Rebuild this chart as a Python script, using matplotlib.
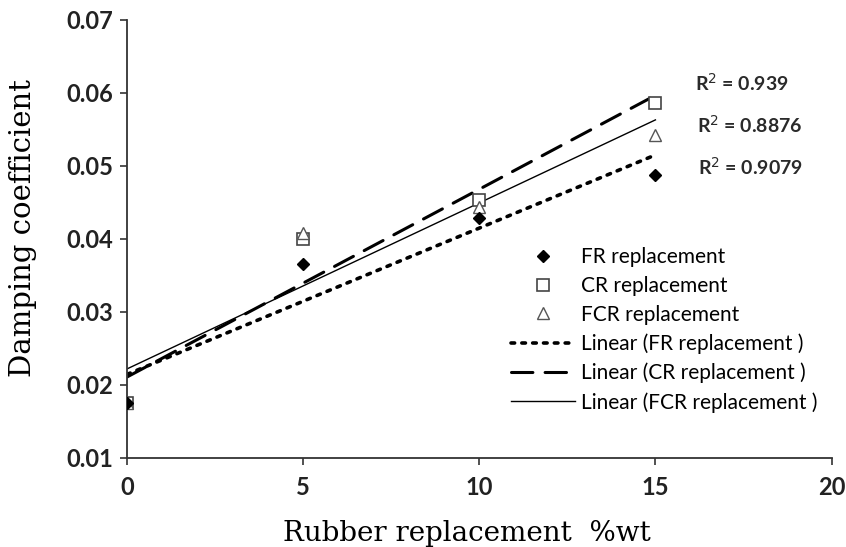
import numpy as np
import matplotlib
matplotlib.use("Agg")
import matplotlib.pyplot as plt

# rubber replacement levels (%wt) and measured damping coefficients
x = [0, 5, 10, 15]
fr = [0.0175, 0.0366, 0.0429, 0.0488]
cr = [0.0175, 0.0400, 0.0453, 0.0586]
fcr = [0.0175, 0.0408, 0.0444, 0.0542]
r2_labels = ["R$^2$ = 0.939", "R$^2$ = 0.8876", "R$^2$ = 0.9079"]

fig = plt.figure(figsize=(8.46, 5.47), dpi=100)
ax = fig.add_axes([0.150, 0.163, 0.833, 0.801])

ax.plot(x, cr, ls="none", marker="s", ms=9, mfc="white", mec="#444444", mew=1.2,
        label="CR replacement", zorder=3)
ax.plot(x, fcr, ls="none", marker="^", ms=9, mfc="white", mec="#555555", mew=1.0,
        label="FCR replacement", zorder=3)
ax.plot(x, fr, ls="none", marker="D", ms=6, color="black", label="FR replacement",
        zorder=4)

# least-squares trend lines over the data range
xs = np.array([0, 15])
for ys, style, lw, lab in [(fr, (0, (1, 2)), 2.6, "Linear (FR replacement )"),
                           (cr, (0, (7, 4)), 2.2, "Linear (CR replacement )"),
                           (fcr, "-", 1.0, "Linear (FCR replacement )")]:
    k, b = np.polyfit(x, ys, 1)
    ax.plot(xs, k * xs + b, color="black", ls=style, lw=lw, label=lab,
            dash_capstyle="round")

for i, t in enumerate(r2_labels):
    ax.text([695, 697, 698][i] / 846, [547 - 83, 547 - 125, 547 - 167][i] / 547, t,
            transform=fig.transFigure, fontsize=14, family="Lato", fontweight="bold",
            color="#2a2a2a", va="center")

ax.set_xlim(0, 20)
ax.set_ylim(0.01, 0.07)
ax.set_xticks([0, 5, 10, 15, 20])
ax.set_yticks(np.arange(0.01, 0.0701, 0.01))
ax.set_yticklabels(["0.01", "0.02", "0.03", "0.04", "0.05", "0.06", "0.07"])
for s in ["top", "right"]:
    ax.spines[s].set_visible(False)
for s in ["left", "bottom"]:
    ax.spines[s].set_linewidth(1.3)
    ax.spines[s].set_color("#333333")
ax.tick_params(direction="out", length=5, width=1.2, color="#333333")
ax.tick_params(axis="x", pad=8)
ax.tick_params(axis="y", pad=5)
for lbl in ax.get_xticklabels() + ax.get_yticklabels():
    lbl.set_family("Lato")
    lbl.set_fontweight("bold")
    lbl.set_fontsize(17)
    lbl.set_color("#222222")

ax.set_xlabel("Rubber replacement  %wt", family="DejaVu Serif", fontsize=20)
ax.xaxis.set_label_coords(0.482, -0.142)
ax.set_ylabel("Damping coefficient", family="DejaVu Serif", fontsize=21)
ax.yaxis.set_label_coords(-0.128, 0.525)

# legend order: markers first, then trend lines
h, l = ax.get_legend_handles_labels()
order = [2, 0, 1, 3, 4, 5]
ax.legend([h[i] for i in order], [l[i] for i in order], loc="lower right",
          bbox_to_anchor=(1.0, 0.07), frameon=False,
          prop={"family": "Lato", "size": 15}, handlelength=3.1,
          labelspacing=0.42, handletextpad=0.25, borderpad=0.2)

fig.savefig("out.png", dpi=100)
